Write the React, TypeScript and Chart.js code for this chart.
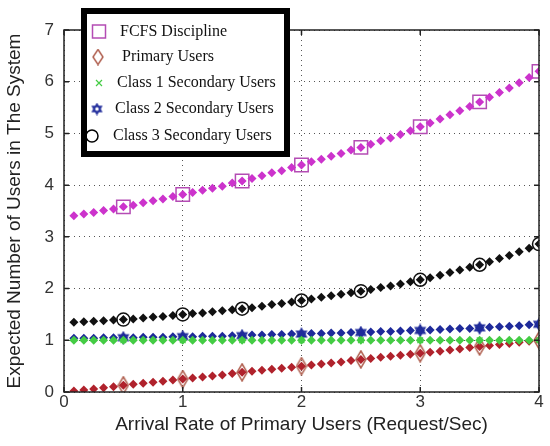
import React, { useEffect, useRef } from 'react';
import { Chart, registerables } from 'chart.js';
Chart.register(...registerables);

// Arrival rate of primary users (Request/Sec)
const xValues = [0.083, 0.167, 0.25, 0.333, 0.417, 0.5, 0.583, 0.667, 0.75, 0.833, 0.917, 1.0,
  1.083, 1.167, 1.25, 1.333, 1.417, 1.5, 1.583, 1.667, 1.75, 1.833, 1.917, 2.0,
  2.083, 2.167, 2.25, 2.333, 2.417, 2.5, 2.583, 2.667, 2.75, 2.833, 2.917, 3.0,
  3.083, 3.167, 3.25, 3.333, 3.417, 3.5, 3.583, 3.667, 3.75, 3.833, 3.917, 4.0];

const fcfs = [3.41, 3.44, 3.47, 3.51, 3.54, 3.58, 3.61, 3.66, 3.70, 3.73, 3.78, 3.82,
  3.86, 3.90, 3.94, 3.98, 4.04, 4.08, 4.13, 4.18, 4.24, 4.28, 4.34, 4.39,
  4.45, 4.50, 4.56, 4.61, 4.68, 4.73, 4.79, 4.86, 4.91, 4.98, 5.05, 5.13,
  5.20, 5.28, 5.36, 5.44, 5.52, 5.61, 5.70, 5.79, 5.88, 5.98, 6.08, 6.20];

const primary = [0.02, 0.04, 0.06, 0.08, 0.10, 0.13, 0.15, 0.17, 0.19, 0.21, 0.23, 0.25,
  0.27, 0.29, 0.31, 0.33, 0.36, 0.38, 0.40, 0.42, 0.44, 0.46, 0.48, 0.50,
  0.52, 0.54, 0.56, 0.58, 0.61, 0.63, 0.65, 0.67, 0.69, 0.71, 0.73, 0.75,
  0.77, 0.79, 0.81, 0.83, 0.86, 0.88, 0.90, 0.92, 0.94, 0.96, 0.98, 1.00];

const class1 = [1.00, 1.00, 1.00, 1.00, 1.00, 1.00, 1.00, 1.00, 1.00, 1.00, 1.00, 1.00,
  1.00, 1.00, 1.00, 1.00, 1.00, 1.00, 1.00, 1.00, 1.00, 1.00, 1.00, 1.00,
  1.00, 1.00, 1.00, 1.00, 1.00, 1.00, 1.00, 1.00, 1.00, 1.00, 1.00, 1.00,
  1.00, 1.00, 1.00, 1.00, 1.00, 1.00, 1.00, 1.00, 1.00, 1.00, 1.00, 1.00];

const class2 = [1.04, 1.04, 1.04, 1.05, 1.05, 1.05, 1.05, 1.06, 1.06, 1.06, 1.07, 1.07,
  1.07, 1.08, 1.08, 1.08, 1.09, 1.09, 1.10, 1.10, 1.11, 1.11, 1.12, 1.12,
  1.13, 1.13, 1.14, 1.14, 1.15, 1.15, 1.16, 1.17, 1.17, 1.18, 1.19, 1.19,
  1.20, 1.21, 1.22, 1.23, 1.23, 1.24, 1.25, 1.26, 1.27, 1.28, 1.30, 1.31];

const class3 = [1.35, 1.36, 1.37, 1.38, 1.39, 1.40, 1.41, 1.43, 1.45, 1.46, 1.48, 1.50,
  1.52, 1.53, 1.55, 1.57, 1.59, 1.61, 1.63, 1.66, 1.69, 1.71, 1.74, 1.77,
  1.80, 1.83, 1.86, 1.89, 1.92, 1.95, 1.98, 2.02, 2.05, 2.09, 2.13, 2.17,
  2.21, 2.26, 2.31, 2.36, 2.41, 2.46, 2.52, 2.58, 2.64, 2.71, 2.78, 2.86];

const markerX = [0.5, 1, 1.5, 2, 2.5, 3, 3.5, 4];
const xTicks = [0, 1, 2, 3, 4];
const yTicks = [0, 1, 2, 3, 4, 5, 6, 7];

const legendLabels = [
  'FCFS Discipline',
  'Primary Users',
  'Class 1 Secondary Users',
  'Class 2 Secondary Users',
  'Class 3 Secondary Users',
];

const COLORS = {
  fcfsFill: '#cc33cc',
  fcfsMark: '#b44cb4',
  primFill: '#b0222c',
  primMark: '#b06050',
  c1: '#44cc44',
  c2: '#1e2a9a',
  c3: '#111111',
};

function makeHexagram(color: string, size: number) {
  const c = document.createElement('canvas');
  c.width = size; c.height = size;
  const g = c.getContext('2d')!;
  const cx = size / 2, cy = size / 2, r = size / 2 - 1.5;
  g.strokeStyle = color; g.lineWidth = 1.5;
  for (let t = 0; t < 2; t++) {
    g.beginPath();
    for (let i = 0; i < 3; i++) {
      const a = -Math.PI / 2 + t * Math.PI + i * (2 * Math.PI / 3);
      const px = cx + r * Math.cos(a), py = cy + r * Math.sin(a);
      if (i === 0) g.moveTo(px, py); else g.lineTo(px, py);
    }
    g.closePath();
    g.stroke();
  }
  return c;
}

function makeTallDiamond(color: string, w: number, h: number) {
  const c = document.createElement('canvas');
  c.width = w; c.height = h;
  const g = c.getContext('2d')!;
  g.strokeStyle = color; g.lineWidth = 1.5;
  g.beginPath();
  g.moveTo(w / 2, 1); g.lineTo(w - 1, h / 2); g.lineTo(w / 2, h - 1); g.lineTo(1, h / 2);
  g.closePath(); g.stroke();
  return c;
}

function pts(ys: number[]) {
  return xValues.map((x, i) => ({ x, y: ys[i] }));
}
function markerPts(ys: number[]) {
  return xValues.map((x, i) => ({ x, y: ys[i] })).filter(p => markerX.some(m => Math.abs(m - p.x) < 1e-6));
}

const SANS = '"Liberation Sans", Arial, sans-serif';

export default function App() {
  const ref = useRef<HTMLCanvasElement>(null);
  useEffect(() => {
    document.body.style.margin = '0';
    const hex = makeHexagram(COLORS.c2, 14);
    const hexLegend = makeHexagram(COLORS.c2, 13);
    const dia = makeTallDiamond(COLORS.primMark, 12, 19);
    const diaLegend = makeTallDiamond(COLORS.primMark, 12, 17);

    const dense = (data: number[], color: string) => ({
      data: pts(data), showLine: false, pointStyle: 'rectRot', pointRadius: 4.5,
      pointBackgroundColor: color, pointBorderColor: color, pointBorderWidth: 0,
    });

    const frame = {
      id: 'frame',
      afterDatasetsDraw(chart: any) {
        const { ctx, chartArea: ca, scales } = chart;
        const xs = scales.x, ys = scales.y;
        ctx.save();
        ctx.strokeStyle = '#222';
        ctx.lineWidth = 1.5;
        ctx.strokeRect(ca.left, ca.top, ca.right - ca.left, ca.bottom - ca.top);
        ctx.beginPath();
        xTicks.forEach(t => {
          const px = xs.getPixelForValue(t);
          ctx.moveTo(px, ca.bottom); ctx.lineTo(px, ca.bottom - 5);
          ctx.moveTo(px, ca.top); ctx.lineTo(px, ca.top + 5);
        });
        yTicks.forEach(t => {
          const py = ys.getPixelForValue(t);
          ctx.moveTo(ca.left, py); ctx.lineTo(ca.left + 5, py);
          ctx.moveTo(ca.right, py); ctx.lineTo(ca.right - 5, py);
        });
        ctx.stroke();
        ctx.restore();
      },
      afterDraw(chart: any) {
        const { ctx } = chart;
        ctx.save();
        ctx.fillStyle = '#fff';
        ctx.fillRect(81, 8, 209, 149);
        ctx.strokeStyle = '#000';
        ctx.lineWidth = 6;
        ctx.strokeRect(84, 11, 203, 143);
        const rows = [32, 57, 83, 109, 136];
        const mx = [99, 98, 99, 97, 92];
        const tx = [120, 122, 117, 115, 113];
        ctx.font = '16px "Liberation Serif", "DejaVu Serif", serif';
        ctx.textBaseline = 'middle';
        ctx.fillStyle = '#111';
        legendLabels.forEach((lab, i) => ctx.fillText(lab, tx[i], rows[i]));
        ctx.lineWidth = 1.5;
        ctx.strokeStyle = COLORS.fcfsMark;
        ctx.strokeRect(mx[0] - 6.5, rows[0] - 7, 13, 13);
        ctx.drawImage(diaLegend, mx[1] - 6, rows[1] - 8.5);
        ctx.strokeStyle = COLORS.c1;
        ctx.lineWidth = 1.2;
        ctx.beginPath();
        ctx.moveTo(mx[2] - 3, rows[2] - 3); ctx.lineTo(mx[2] + 3, rows[2] + 3);
        ctx.moveTo(mx[2] + 3, rows[2] - 3); ctx.lineTo(mx[2] - 3, rows[2] + 3);
        ctx.stroke();
        ctx.drawImage(hexLegend, mx[3] - 6.5, rows[3] - 6.5);
        ctx.strokeStyle = '#000';
        ctx.lineWidth = 1.5;
        ctx.beginPath();
        ctx.arc(mx[4], rows[4], 6, 0, Math.PI * 2);
        ctx.stroke();
        ctx.restore();
      },
    };

    const chart = new Chart(ref.current!, {
      type: 'scatter',
      data: {
        datasets: [
          dense(class1, COLORS.c1),
          dense(primary, COLORS.primFill),
          dense(class2, COLORS.c2),
          dense(class3, COLORS.c3),
          dense(fcfs, COLORS.fcfsFill),
          { data: markerPts(fcfs), showLine: false, pointStyle: 'rect', pointRadius: 9.5,
            pointBackgroundColor: 'rgba(0,0,0,0)', pointBorderColor: COLORS.fcfsMark, pointBorderWidth: 1.5 },
          { data: markerPts(primary), showLine: false, pointStyle: dia, pointRadius: 8 },
          { data: markerPts(class1), showLine: false, pointStyle: 'crossRot', pointRadius: 4,
            pointBorderColor: COLORS.c1, pointBorderWidth: 1.2 },
          { data: markerPts(class2), showLine: false, pointStyle: hex, pointRadius: 7 },
          { data: markerPts(class3), showLine: false, pointStyle: 'circle', pointRadius: 6.5,
            pointBackgroundColor: 'rgba(0,0,0,0)', pointBorderColor: COLORS.c3, pointBorderWidth: 1.5 },
        ] as any,
      },
      options: {
        responsive: false,
        animation: false,
        devicePixelRatio: 1,
        layout: { padding: { top: 30, right: 8, left: 0, bottom: 0 } },
        plugins: { legend: { display: false }, tooltip: { enabled: false } },
        scales: {
          x: {
            type: 'linear', min: 0, max: 4,
            afterFit: (s: any) => { s.height = 54; },
            afterBuildTicks: (s: any) => { s.ticks = xTicks.map(v => ({ value: v })); },
            ticks: { color: '#333', padding: 0, font: { family: SANS, size: 17 } },
            grid: { color: '#555', lineWidth: 1, drawTicks: false, borderDash: [1, 4] },
            border: { display: false, dash: [1, 4] },
            title: { display: true, text: 'Arrival Rate of Primary Users (Request/Sec)', color: '#222',
              padding: { top: 0, bottom: 10 }, font: { family: SANS, size: 19 } },
          },
          y: {
            type: 'linear', min: 0, max: 7,
            afterFit: (s: any) => { s.width = 64; },
            afterBuildTicks: (s: any) => { s.ticks = yTicks.map(v => ({ value: v })); },
            ticks: { color: '#333', padding: 10, font: { family: SANS, size: 17 } },
            grid: { color: '#555', lineWidth: 1, drawTicks: false, borderDash: [1, 4] },
            border: { display: false, dash: [1, 4] },
            title: { display: true, text: 'Expected Number of Users in The System', color: '#222',
              padding: { top: 3, bottom: 0 }, font: { family: SANS, size: 19 } },
          },
        },
      } as any,
      plugins: [frame],
    });
    return () => chart.destroy();
  }, []);
  return <canvas ref={ref} width={550} height={446} style={{ display: 'block' }} />;
}
